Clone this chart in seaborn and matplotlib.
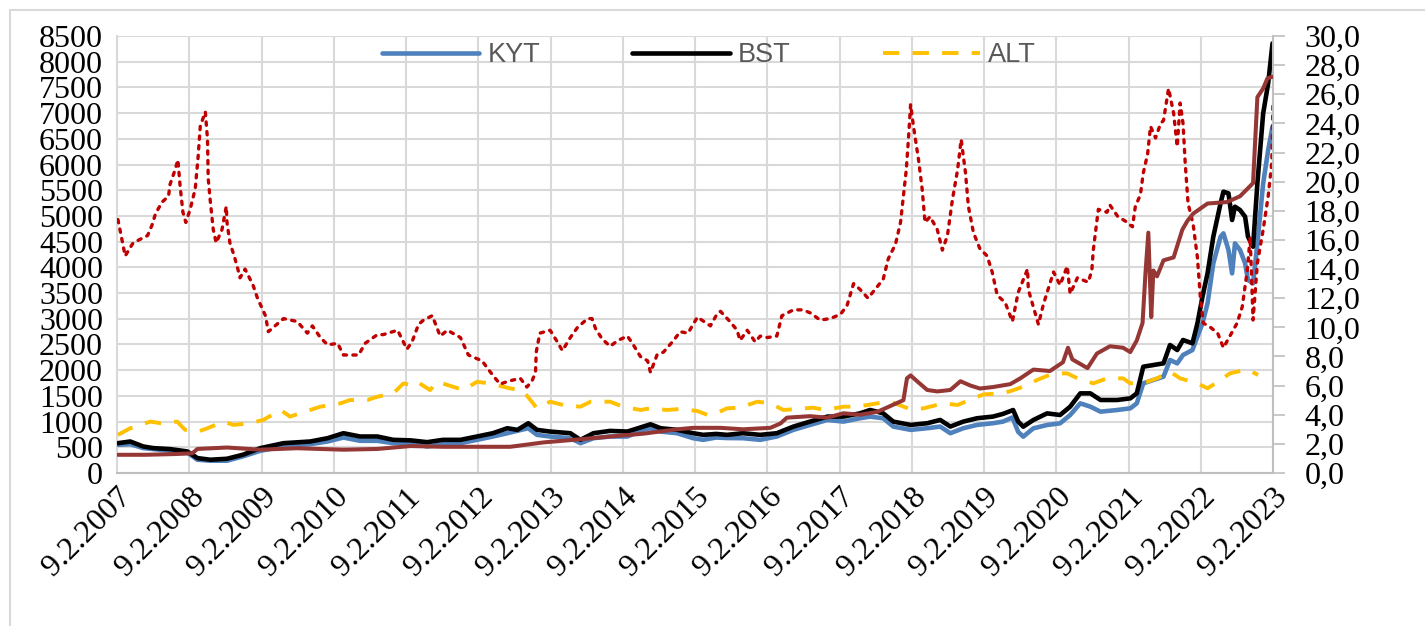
import numpy as np
import pandas as pd
import matplotlib
matplotlib.use("Agg")
import matplotlib.pyplot as plt
import seaborn as sns
from matplotlib.patches import Rectangle
from matplotlib.lines import Line2D
from matplotlib.ticker import FuncFormatter, MultipleLocator

# ---------------- data (decimal years) ----------------
kyt_t = [2007.12, 2007.29, 2007.47, 2007.61, 2007.84, 2008.08, 2008.22, 2008.40, 2008.63, 2008.85,
         2009.09, 2009.41, 2009.78, 2010.02, 2010.24, 2010.47, 2010.71, 2010.93, 2011.17, 2011.40,
         2011.62, 2011.86, 2012.09, 2012.31, 2012.51, 2012.80, 2012.92, 2013.10, 2013.38, 2013.52,
         2013.70, 2013.93, 2014.17, 2014.39, 2014.49, 2014.63, 2014.86, 2015.08, 2015.22, 2015.40,
         2015.55, 2015.77, 2016.01, 2016.24, 2016.47, 2016.70, 2016.94, 2017.16, 2017.39, 2017.53,
         2017.71, 2017.85, 2018.09, 2018.32, 2018.50, 2018.64, 2018.82, 2019.01, 2019.23, 2019.37,
         2019.50, 2019.58, 2019.65, 2019.79, 2019.98, 2020.16, 2020.30, 2020.44, 2020.58, 2020.72,
         2020.95, 2021.13, 2021.22, 2021.31, 2021.45, 2021.59, 2021.68, 2021.78, 2021.86, 2021.99,
         2022.06, 2022.13, 2022.20, 2022.28, 2022.38, 2022.42, 2022.49, 2022.54, 2022.58, 2022.65,
         2022.72, 2022.76, 2022.83, 2022.89, 2022.97, 2023.04, 2023.10]
kyt_v = [548, 561, 484, 465, 432, 400, 258, 239, 239, 323,
         432, 516, 561, 613, 690, 626, 626, 580, 580, 516,
         561, 580, 645, 710, 774, 871, 742, 710, 677, 580,
         677, 710, 710, 839, 871, 806, 774, 677, 645, 690,
         680, 677, 645, 710, 839, 935, 1032, 1000, 1065, 1097,
         1065, 903, 839, 871, 903, 774, 871, 935, 968, 1000,
         1080, 800, 707, 869, 934, 966, 1128, 1355, 1290, 1193,
         1225, 1258, 1355, 1744, 1809, 1874, 2198, 2133, 2295, 2392,
         2652, 2911, 3300, 4078, 4596, 4661, 4337, 3883, 4467, 4337,
         4078, 3754, 3689, 4467, 5634, 6282, 6736]

bst_t = [2007.12, 2007.29, 2007.47, 2007.61, 2007.84, 2008.08, 2008.22, 2008.40, 2008.63, 2008.85,
         2009.09, 2009.41, 2009.78, 2010.02, 2010.24, 2010.47, 2010.71, 2010.93, 2011.17, 2011.40,
         2011.62, 2011.86, 2012.09, 2012.31, 2012.51, 2012.65, 2012.80, 2012.92, 2013.10, 2013.38,
         2013.52, 2013.70, 2013.93, 2014.17, 2014.39, 2014.49, 2014.63, 2014.86, 2015.08, 2015.22,
         2015.40, 2015.55, 2015.77, 2016.01, 2016.24, 2016.47, 2016.70, 2016.94, 2017.16, 2017.39,
         2017.53, 2017.71, 2017.85, 2018.09, 2018.32, 2018.50, 2018.64, 2018.82, 2019.01, 2019.23,
         2019.37, 2019.51, 2019.58, 2019.65, 2019.79, 2019.98, 2020.16, 2020.30, 2020.44, 2020.58,
         2020.72, 2020.95, 2021.13, 2021.22, 2021.31, 2021.45, 2021.59, 2021.68, 2021.78, 2021.86,
         2021.99, 2022.06, 2022.13, 2022.20, 2022.28, 2022.38, 2022.42, 2022.49, 2022.54, 2022.58,
         2022.65, 2022.72, 2022.76, 2022.83, 2022.89, 2022.97, 2023.04, 2023.10]
bst_v = [580, 613, 516, 484, 465, 420, 290, 258, 277, 355,
         484, 580, 613, 677, 774, 710, 710, 645, 635, 600,
         645, 645, 710, 774, 871, 839, 968, 839, 806, 774,
         645, 774, 819, 806, 903, 948, 871, 839, 774, 742,
         760, 742, 774, 742, 774, 903, 1000, 1097, 1097, 1161,
         1226, 1161, 1000, 935, 968, 1032, 903, 1000, 1065, 1097,
         1150, 1225, 1000, 901, 1031, 1160, 1128, 1290, 1549, 1549,
         1420, 1420, 1452, 1549, 2068, 2100, 2133, 2490, 2392, 2587,
         2522, 2911, 3429, 3883, 4596, 5245, 5472, 5439, 4921, 5180,
         5115, 4985, 4596, 4402, 5634, 6995, 7579, 8357]

alt_t = [2007.12, 2007.29, 2007.57, 2007.71, 2007.94, 2008.05, 2008.23, 2008.36, 2008.58, 2008.72,
         2008.95, 2009.13, 2009.37, 2009.50, 2009.78, 2009.92, 2010.20, 2010.33, 2010.57, 2010.71,
         2010.93, 2011.07, 2011.19, 2011.26, 2011.44, 2011.54, 2011.76, 2011.90, 2012.09, 2012.27,
         2012.55, 2012.72, 2012.83, 2012.92, 2013.10, 2013.28, 2013.52, 2013.66, 2013.93, 2014.11,
         2014.35, 2014.49, 2014.72, 2014.90, 2015.14, 2015.28, 2015.40, 2015.55, 2015.73, 2015.97,
         2016.15, 2016.33, 2016.52, 2016.74, 2016.91, 2017.16, 2017.35, 2017.63, 2017.81, 2018.09,
         2018.27, 2018.54, 2018.74, 2018.96, 2019.10, 2019.37, 2019.51, 2019.71, 2019.84, 2020.07,
         2020.26, 2020.40, 2020.62, 2020.81, 2021.03, 2021.13, 2021.37, 2021.50, 2021.68, 2021.82,
         2022.06, 2022.20, 2022.38, 2022.51, 2022.75, 2022.90]
alt_v = [742, 871, 1000, 968, 1000, 839, 806, 871, 1000, 935,
         968, 1032, 1226, 1097, 1226, 1290, 1355, 1419, 1419, 1484,
         1548, 1742, 1710, 1774, 1613, 1774, 1677, 1613, 1774, 1742,
         1645, 1613, 1419, 1258, 1387, 1323, 1290, 1387, 1387, 1290,
         1226, 1258, 1226, 1245, 1206, 1129, 1161, 1258, 1271, 1387,
         1355, 1226, 1245, 1271, 1226, 1290, 1290, 1355, 1387, 1239,
         1258, 1355, 1323, 1452, 1529, 1550, 1610, 1711, 1809, 1938,
         1938, 1841, 1744, 1841, 1841, 1744, 1776, 1841, 1971, 1841,
         1744, 1647, 1809, 1938, 2016, 1906]

kur_t = [2007.12, 2007.50, 2007.90, 2008.15, 2008.22, 2008.63, 2009.09, 2009.60, 2010.24, 2010.71,
         2011.17, 2011.62, 2012.55, 2013.01, 2013.48, 2013.93, 2014.39, 2014.86, 2015.08, 2015.46,
         2015.77, 2016.15, 2016.29, 2016.38, 2016.70, 2016.94, 2017.16, 2017.39, 2017.63, 2017.81,
         2017.99, 2018.04, 2018.09, 2018.18, 2018.32, 2018.46, 2018.64, 2018.78, 2018.92, 2019.05,
         2019.23, 2019.47, 2019.61, 2019.79, 2020.02, 2020.20, 2020.27, 2020.33, 2020.54, 2020.67,
         2020.85, 2021.03, 2021.13, 2021.22, 2021.30, 2021.34, 2021.38, 2021.42, 2021.45, 2021.50,
         2021.59, 2021.73, 2021.85, 2021.92, 2022.00, 2022.20, 2022.47, 2022.65, 2022.83, 2022.89,
         2022.97, 2023.03, 2023.10]
kur_v = [1.25, 1.25, 1.30, 1.35, 1.65, 1.75, 1.60, 1.70, 1.60, 1.65,
         1.85, 1.80, 1.80, 2.10, 2.30, 2.50, 2.70, 3.00, 3.10, 3.10,
         3.00, 3.10, 3.40, 3.80, 3.90, 3.80, 4.10, 4.00, 4.20, 4.60,
         5.00, 6.50, 6.70, 6.30, 5.70, 5.60, 5.70, 6.30, 6.00, 5.80,
         5.90, 6.10, 6.50, 7.10, 7.00, 7.60, 8.60, 7.80, 7.20, 8.20,
         8.70, 8.60, 8.30, 9.10, 10.30, 13.70, 16.50, 10.70, 13.90, 13.50,
         14.60, 14.80, 16.70, 17.30, 17.80, 18.50, 18.60, 19.00, 19.90, 25.80,
         26.40, 27.10, 27.20]

fai_t = [2007.12, 2007.22, 2007.33, 2007.53, 2007.59, 2007.64, 2007.73, 2007.82, 2007.84, 2007.91,
         2007.95, 2007.98, 2008.02, 2008.06, 2008.12, 2008.19, 2008.23, 2008.26, 2008.33, 2008.36,
         2008.37, 2008.40, 2008.44, 2008.48, 2008.56, 2008.62, 2008.63, 2008.67, 2008.73, 2008.78,
         2008.81, 2008.88, 2008.99, 2009.05, 2009.16, 2009.20, 2009.41, 2009.60, 2009.74, 2009.81,
         2009.92, 2010.02, 2010.16, 2010.24, 2010.45, 2010.54, 2010.71, 2010.79, 2010.99, 2011.12,
         2011.19, 2011.28, 2011.35, 2011.47, 2011.58, 2011.68, 2011.86, 2011.97, 2012.16, 2012.31,
         2012.41, 2012.52, 2012.69, 2012.78, 2012.85, 2012.90, 2012.91, 2012.96, 2013.10, 2013.20,
         2013.27, 2013.38, 2013.48, 2013.62, 2013.68, 2013.73, 2013.82, 2013.93, 2014.04, 2014.17,
         2014.24, 2014.35, 2014.45, 2014.49, 2014.58, 2014.67, 2014.81, 2014.90, 2015.01, 2015.14,
         2015.32, 2015.41, 2015.46, 2015.59, 2015.69, 2015.73, 2015.83, 2015.94, 2016.01, 2016.11,
         2016.24, 2016.31, 2016.47, 2016.60, 2016.70, 2016.84, 2016.98, 2017.12, 2017.21, 2017.30,
         2017.39, 2017.50, 2017.63, 2017.71, 2017.78, 2017.88, 2017.95, 2017.99, 2018.03, 2018.06,
         2018.09, 2018.13, 2018.20, 2018.25, 2018.29, 2018.36, 2018.46, 2018.53, 2018.60, 2018.67,
         2018.74, 2018.79, 2018.85, 2018.89, 2018.96, 2019.05, 2019.15, 2019.22, 2019.29, 2019.40,
         2019.50, 2019.58, 2019.71, 2019.72, 2019.79, 2019.86, 2019.93, 2020.02, 2020.07, 2020.16,
         2020.26, 2020.30, 2020.40, 2020.55, 2020.60, 2020.62, 2020.66, 2020.69, 2020.81, 2020.85,
         2020.96, 2021.06, 2021.16, 2021.20, 2021.27, 2021.31, 2021.37, 2021.41, 2021.48, 2021.55,
         2021.59, 2021.64, 2021.66, 2021.73, 2021.78, 2021.82, 2021.86, 2021.89, 2021.93, 2022.00,
         2022.06, 2022.10, 2022.14, 2022.24, 2022.34, 2022.42, 2022.51, 2022.61, 2022.68, 2022.75,
         2022.79, 2022.83, 2022.89, 2022.97, 2023.04, 2023.09, 2023.105]
fai_v = [17.4, 14.9, 15.8, 16.3, 17.0, 17.8, 18.6, 19.0, 19.8, 20.8,
         21.5, 19.7, 17.9, 17.2, 18.1, 19.5, 21.7, 23.8, 24.8, 22.9,
         20.2, 18.6, 16.7, 15.8, 16.7, 18.3, 17.2, 15.8, 14.9, 14.0,
         13.4, 14.0, 12.9, 12.0, 10.8, 9.7, 10.6, 10.4, 9.6, 10.1,
         9.3, 8.8, 8.9, 8.1, 8.1, 8.9, 9.5, 9.5, 9.8, 8.5,
         9.0, 10.2, 10.5, 10.8, 9.4, 9.8, 9.3, 8.1, 7.7, 6.7,
         6.1, 6.3, 6.5, 5.9, 6.3, 6.9, 8.3, 9.6, 9.8, 9.0,
         8.4, 9.3, 10.0, 10.6, 10.6, 9.9, 9.2, 8.7, 9.1, 9.4,
         8.9, 8.0, 7.7, 6.9, 8.1, 8.3, 9.1, 9.7, 9.6, 10.7,
         10.1, 10.9, 11.1, 10.4, 9.8, 9.1, 9.8, 9.0, 9.4, 9.3,
         9.4, 10.8, 11.2, 11.2, 11.0, 10.5, 10.6, 10.9, 11.5, 13.0,
         12.6, 12.0, 12.8, 13.3, 14.7, 15.7, 17.2, 19.0, 20.8, 22.9,
         25.3, 23.8, 21.5, 19.5, 17.2, 17.6, 16.7, 15.3, 16.3, 18.8,
         20.8, 22.9, 20.6, 18.3, 16.5, 15.4, 14.9, 13.8, 12.2, 11.7,
         10.4, 12.4, 14.0, 12.6, 11.4, 10.2, 11.6, 13.0, 13.8, 12.9,
         14.2, 12.3, 13.4, 13.1, 13.9, 15.3, 16.9, 18.1, 17.9, 18.4,
         17.6, 17.3, 16.9, 18.3, 19.1, 20.6, 21.9, 23.8, 23.0, 24.0,
         24.2, 25.8, 26.4, 24.7, 22.4, 25.4, 24.0, 21.3, 18.5, 17.1,
         14.8, 12.1, 10.3, 10.0, 9.6, 8.6, 9.4, 10.3, 11.4, 13.9,
         16.2, 10.5, 14.4, 16.7, 19.0, 21.3, 25.3]

legend_labels = ["KYT", "BST", "ALT"]
tick_years = list(range(2007, 2024))
tick_labels = [f"9.2.{y}" for y in tick_years]


def to_date(y):
    yr = int(y)
    return pd.Timestamp(yr, 1, 1) + pd.Timedelta(days=(y - yr) * 365.25)


def frame(t, v):
    return pd.DataFrame({"date": [to_date(x) for x in t], "value": v})


sns.set_theme(style="white")
plt.rcParams["font.family"] = ["Liberation Serif", "DejaVu Serif"]

W, H = 1425, 626
fig = plt.figure(figsize=(W / 100, H / 100), dpi=100)
ax = fig.add_axes([117 / W, 1 - 473 / H, 1156 / W, 437 / H])
ax2 = ax.twinx()

c_kyt, c_bst, c_alt = "#4F81BD", "#000000", "#FFC000"
c_kur, c_fai = "#953735", "#C00000"

sns.lineplot(data=frame(kyt_t, kyt_v), x="date", y="value", ax=ax, color=c_kyt, lw=3.3, zorder=3)
sns.lineplot(data=frame(bst_t, bst_v), x="date", y="value", ax=ax, color=c_bst, lw=3.3, zorder=4)
sns.lineplot(data=frame(alt_t, alt_v), x="date", y="value", ax=ax, color=c_alt, lw=2.8,
             linestyle=(0, (4.2, 3.4)), zorder=5)
sns.lineplot(data=frame(fai_t, fai_v), x="date", y="value", ax=ax2, color=c_fai, lw=2.4,
             linestyle=(0, (1.0, 1.9)), dash_capstyle="round", zorder=2)
sns.lineplot(data=frame(kur_t, kur_v), x="date", y="value", ax=ax2, color=c_kur, lw=2.9, zorder=3)

x0, x1 = pd.Timestamp(2007, 2, 9), pd.Timestamp(2023, 2, 9)
ax.set_xlim(x0, x1)
ax.set_ylim(0, 8500)
ax2.set_ylim(0, 30)
ax.yaxis.set_major_locator(MultipleLocator(500))
ax2.yaxis.set_major_locator(MultipleLocator(2))
ax2.yaxis.set_major_formatter(FuncFormatter(lambda v, _: f"{v:.1f}".replace(".", ",")))
ax.set_xticks([pd.Timestamp(y, 2, 9) for y in tick_years])
ax.set_xticklabels(tick_labels)

for a in (ax, ax2):
    a.set_xlabel("")
    a.set_ylabel("")

grid_c = "#D9D9D9"
ax.set_axisbelow(True)
ax.grid(True, axis="both", color=grid_c, lw=1.5)
ax2.grid(False)
for s in ("top", "right"):
    ax.spines[s].set_visible(False)
ax.spines["left"].set_color(grid_c)
ax.spines["left"].set_linewidth(1.5)
ax.spines["bottom"].set_color("#BFBFBF")
ax.spines["bottom"].set_linewidth(1.5)
for s in ("top", "left", "bottom"):
    ax2.spines[s].set_visible(False)
ax2.spines["right"].set_color("#BFBFBF")
ax2.spines["right"].set_linewidth(1.5)

fs = 23
ax.tick_params(axis="y", length=0, pad=10, labelsize=fs, labelcolor="#000000")
ax.tick_params(axis="x", length=0, pad=7, labelsize=fs, labelcolor="#000000")
for lab in ax.get_xticklabels():
    lab.set_rotation(45)
    lab.set_ha("right")
    lab.set_rotation_mode("anchor")
ax2.tick_params(axis="y", length=8.5, width=1.2, color="#BFBFBF", pad=14, labelsize=fs,
                labelcolor="#000000", direction="out")

handles = [Line2D([], [], color=c_kyt, lw=3.3),
           Line2D([], [], color=c_bst, lw=3.3),
           Line2D([], [], color=c_alt, lw=2.8, linestyle=(0, (4.2, 3.4)))]
leg = ax.legend(handles, legend_labels, loc="center", bbox_to_anchor=(0.512, 0.956), ncol=3,
                frameon=False, handlelength=3.6, handletextpad=0.3, columnspacing=3.4,
                prop={"family": ["Liberation Sans Narrow", "Liberation Sans"], "size": 19.5})
for t in leg.get_texts():
    t.set_color("#595959")

fig.add_artist(Rectangle((10 / W, -0.1), 2.0, 1.1 - 10 / H, transform=fig.transFigure,
                         fill=False, edgecolor=grid_c, lw=1.5))

fig.savefig("out.png", dpi=100)
